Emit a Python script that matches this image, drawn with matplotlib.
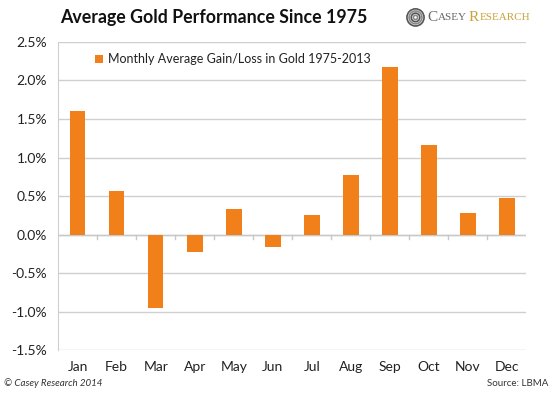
import matplotlib
matplotlib.use("Agg")
import matplotlib.pyplot as plt
import numpy as np

# data
months = ["Jan", "Feb", "Mar", "Apr", "May", "Jun",
          "Jul", "Aug", "Sep", "Oct", "Nov", "Dec"]
avg_change = [1.61, 0.56, -0.95, -0.23, 0.33, -0.16,
              0.25, 0.77, 2.18, 1.16, 0.28, 0.48]
y_ticks = [-1.5, -1.0, -0.5, 0.0, 0.5, 1.0, 1.5, 2.0, 2.5]
series_label = "Monthly Average Gain/Loss in Gold 1975-2013"

plt.rcParams['font.family'] = ['Lato', 'DejaVu Sans']
orange = "#F2801A"

fig = plt.figure(figsize=(5.54, 3.96), dpi=100)
fig.patch.set_facecolor("white")
ax = fig.add_axes([0.105, 0.116, 0.845, 0.778])

x = np.arange(len(months))
ax.bar(x, avg_change, width=0.4, color=orange, zorder=3, label=series_label)

ax.set_xlim(-0.5, len(months) - 0.5)
ax.set_ylim(-1.5, 2.5)
ax.set_yticks(y_ticks)
ax.set_yticklabels([f"{v:.1f}%" for v in y_ticks], fontsize=10, color="#222222")
ax.set_xticks(x)
ax.set_xticklabels(months, fontsize=10, color="#222222")
ax.tick_params(axis="both", length=0, pad=8)
ax.tick_params(axis="x", pad=8)

ax.grid(axis="y", color="#cfcfcf", linewidth=1.0, zorder=0)
ax.axhline(0, color="#c8c8c8", linewidth=1.0, zorder=2)
# small category ticks under the zero line
for b in np.arange(0.5, len(months) - 0.5):
    ax.plot([b, b], [0, -0.06], color="#c8c8c8", linewidth=1.0, zorder=2)

for side in ["top", "right", "bottom"]:
    ax.spines[side].set_visible(False)
ax.spines["left"].set_color("#cfcfcf")

leg = ax.legend(loc="upper left", bbox_to_anchor=(0.055, 1.0), frameon=False,
                fontsize=9, handlelength=0.6, handleheight=0.6, handletextpad=0.4)
for t in leg.get_texts():
    t.set_color("#222222")

fig.text(0.108, 0.955, "Average Gold Performance Since 1975", fontsize=12.8,
         fontweight="bold", color="#111111", va="center")

# logo: swirl + name
logo = fig.add_axes([0.733, 0.932, 0.034, 0.048])
logo.axis("off")
for r, c in zip([1.0, 0.75, 0.5, 0.25], ["#555555", "#888888", "#555555", "#888888"]):
    logo.add_patch(plt.Circle((0, 0), r, fill=False, color=c, linewidth=1.2))
logo.set_xlim(-1.1, 1.1)
logo.set_ylim(-1.1, 1.1)
logo.set_aspect("equal")
fig.text(0.772, 0.955, "C", fontsize=11, color="#666666", va="center",
         family=["Liberation Serif"])
fig.text(0.790, 0.955, "ASEY", fontsize=8, color="#666666", va="center",
         family=["Liberation Serif"])
fig.text(0.846, 0.955, "R", fontsize=11, color="#C9A23A", va="center",
         family=["Liberation Serif"])
fig.text(0.866, 0.955, "ESEARCH", fontsize=8, color="#C9A23A", va="center",
         family=["Liberation Serif"])

fig.text(0.008, 0.02, "© Casey Research 2014", fontsize=7, style="italic",
         color="#333333", va="bottom")
fig.text(0.99, 0.02, "Source: LBMA", fontsize=7, color="#333333",
         va="bottom", ha="right")

fig.savefig("out.png", dpi=100, facecolor="white")
